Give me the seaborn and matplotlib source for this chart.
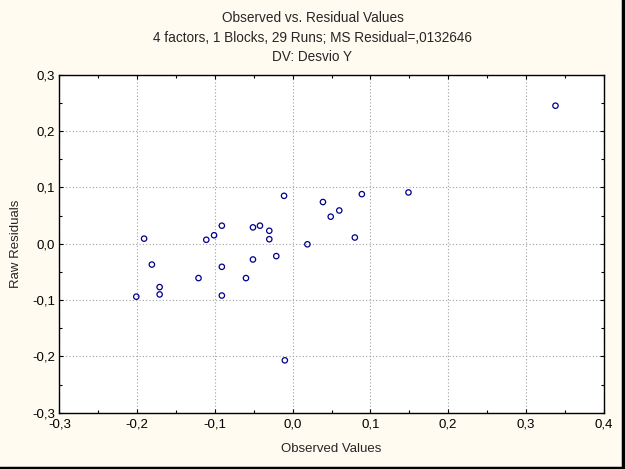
import matplotlib
matplotlib.use("Agg")
import matplotlib.pyplot as plt
import seaborn as sns
import pandas as pd
from matplotlib.ticker import MultipleLocator, FuncFormatter
from matplotlib.lines import Line2D

observed = [-0.011, -0.091, -0.051, -0.042, -0.030, -0.030, -0.101, -0.111, -0.191,
            0.019, -0.181, -0.091, -0.051, -0.021, -0.121, -0.060, -0.171, -0.171,
            -0.201, -0.091, 0.039, 0.089, 0.149, 0.060, 0.049, 0.080, 0.338, -0.010]
residual = [0.085, 0.032, 0.029, 0.032, 0.023, 0.008, 0.015, 0.007, 0.009,
            -0.001, -0.037, -0.041, -0.028, -0.022, -0.061, -0.061, -0.077, -0.090,
            -0.094, -0.092, 0.074, 0.088, 0.091, 0.059, 0.048, 0.011, 0.245, -0.207]
x_ticks = [-0.3, -0.2, -0.1, 0.0, 0.1, 0.2, 0.3, 0.4]
y_ticks = [-0.3, -0.2, -0.1, 0.0, 0.1, 0.2, 0.3]
title_lines = ["Observed vs. Residual Values",
               "4 factors, 1 Blocks, 29 Runs; MS Residual=,0132646",
               "DV: Desvio Y"]

sns.set_style("white")
plt.rcParams['font.family'] = ['Liberation Sans', 'DejaVu Sans']

bg = "#FFFBF0"
fig = plt.figure(figsize=(6.25, 4.69), dpi=100, facecolor=bg)
ax = fig.add_axes([0.0949, 0.120, 0.871, 0.7207])
ax.set_facecolor("white")

df = pd.DataFrame({"Observed Values": observed, "Raw Residuals": residual})
sns.scatterplot(data=df, x="Observed Values", y="Raw Residuals", ax=ax,
                marker="o", s=15, facecolors="none", edgecolor="#00008B",
                linewidth=0.9, zorder=3)

ax.set_xlim(-0.3, 0.4)
ax.set_ylim(-0.3, 0.3)
ax.set_xticks(x_ticks)
ax.set_yticks(y_ticks)
fmt = FuncFormatter(lambda v, p: f"{v:.1f}".replace(".", ",").replace("-0,0", "0,0"))
ax.xaxis.set_major_formatter(fmt)
ax.yaxis.set_major_formatter(fmt)
ax.xaxis.set_minor_locator(MultipleLocator(0.05))
ax.yaxis.set_minor_locator(MultipleLocator(0.05))
ax.tick_params(which="both", direction="in", top=True, right=True, bottom=True, left=True,
               color="black", labelsize=9.5, labelcolor="black")
ax.tick_params(axis="x", which="major", pad=4)
ax.tick_params(axis="y", which="major", pad=3)
ax.tick_params(which="major", length=3, width=0.8)
ax.tick_params(which="minor", length=2, width=0.8)
ax.grid(True, which="major", color="#A0A0A0", linestyle=(0, (1, 2)), linewidth=0.8)
for sp in ax.spines.values():
    sp.set_color("black")
    sp.set_linewidth(1.0)

ax.set_xlabel("Observed Values", fontsize=9.5, labelpad=9)
ax.set_ylabel("Raw Residuals", fontsize=9.5, labelpad=7)

ys = [0.962, 0.919, 0.878]
for t, yy in zip(title_lines, ys):
    fig.text(0.5, yy, t, ha="center", va="center", fontsize=9.8)

# outer frame (right/bottom dark)
fig.add_artist(Line2D([0.997, 0.997], [0, 1], transform=fig.transFigure, color="black", linewidth=2.5))
fig.add_artist(Line2D([0, 1], [0.003, 0.003], transform=fig.transFigure, color="black", linewidth=2.5))

fig.savefig("out.png", dpi=100, facecolor=bg)
